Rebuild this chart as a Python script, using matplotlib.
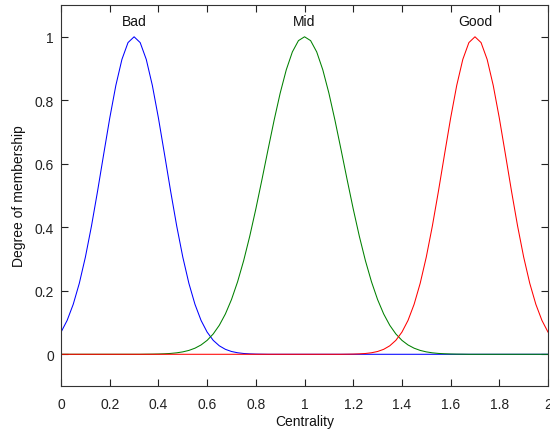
import numpy as np
import matplotlib
matplotlib.use("Agg")
import matplotlib.pyplot as plt

# sample positions along Centrality axis (0 .. 2 in steps of 0.025)
x_values = np.linspace(0, 2, 81)

bad_values = [
    0.0698, 0.1067, 0.1574, 0.2236, 0.3062, 0.4041, 0.5139, 0.6298, 0.7439, 0.8467,
    0.9287, 0.9817, 1.0000, 0.9817, 0.9287, 0.8467, 0.7439, 0.6298, 0.5139, 0.4041,
    0.3062, 0.2236, 0.1574, 0.1067, 0.0698, 0.0439, 0.0267, 0.0156, 0.0088, 0.0048,
    0.0025, 0.0013, 0.0006, 0.0003, 0.0, 0.0, 0.0, 0.0, 0.0, 0.0,
    0.0, 0.0, 0.0, 0.0, 0.0, 0.0, 0.0, 0.0, 0.0, 0.0,
    0.0, 0.0, 0.0, 0.0, 0.0, 0.0, 0.0, 0.0, 0.0, 0.0,
    0.0, 0.0, 0.0, 0.0, 0.0, 0.0, 0.0, 0.0, 0.0, 0.0,
    0.0, 0.0, 0.0, 0.0, 0.0, 0.0, 0.0, 0.0, 0.0, 0.0,
    0.0,
]

mid_values = [
    0.0, 0.0, 0.0, 0.0, 0.0, 0.0, 0.0, 0.0, 0.0, 0.0,
    0.0, 0.0, 0.0, 0.0, 0.0003, 0.0005, 0.0009, 0.0016, 0.0027, 0.0046,
    0.0076, 0.0122, 0.0192, 0.0294, 0.0439, 0.0641, 0.0914, 0.1271, 0.1724, 0.2283,
    0.2950, 0.3720, 0.4578, 0.5498, 0.6444, 0.7370, 0.8226, 0.8960, 0.9523, 0.9879,
    1.0000, 0.9879, 0.9523, 0.8960, 0.8226, 0.7370, 0.6444, 0.5498, 0.4578, 0.3720,
    0.2950, 0.2283, 0.1724, 0.1271, 0.0914, 0.0641, 0.0439, 0.0294, 0.0192, 0.0122,
    0.0076, 0.0046, 0.0027, 0.0016, 0.0009, 0.0005, 0.0003, 0.0, 0.0, 0.0,
    0.0, 0.0, 0.0, 0.0, 0.0, 0.0, 0.0, 0.0, 0.0, 0.0,
    0.0,
]

good_values = [
    0.0, 0.0, 0.0, 0.0, 0.0, 0.0, 0.0, 0.0, 0.0, 0.0,
    0.0, 0.0, 0.0, 0.0, 0.0, 0.0, 0.0, 0.0, 0.0, 0.0,
    0.0, 0.0, 0.0, 0.0, 0.0, 0.0, 0.0, 0.0, 0.0, 0.0,
    0.0, 0.0, 0.0, 0.0, 0.0, 0.0, 0.0, 0.0, 0.0, 0.0,
    0.0, 0.0, 0.0, 0.0, 0.0, 0.0, 0.0, 0.0003, 0.0006, 0.0013,
    0.0025, 0.0048, 0.0088, 0.0156, 0.0267, 0.0439, 0.0698, 0.1067, 0.1574, 0.2236,
    0.3062, 0.4041, 0.5139, 0.6298, 0.7439, 0.8467, 0.9287, 0.9817, 1.0000, 0.9817,
    0.9287, 0.8467, 0.7439, 0.6298, 0.5139, 0.4041, 0.3062, 0.2236, 0.1574, 0.1067,
    0.0698,
]

mf_names = ["Bad", "Mid", "Good"]
mf_centers = [0.3, 1.0, 1.7]
x_ticks = [0, 0.2, 0.4, 0.6, 0.8, 1, 1.2, 1.4, 1.6, 1.8, 2]
x_tick_labels = ["0", "0.2", "0.4", "0.6", "0.8", "1", "1.2", "1.4", "1.6", "1.8", "2"]
y_ticks = [0, 0.2, 0.4, 0.6, 0.8, 1]
y_tick_labels = ["0", "0.2", "0.4", "0.6", "0.8", "1"]

plt.rcParams['font.family'] = ['Liberation Sans', 'DejaVu Sans']

fig = plt.figure(figsize=(5.5, 4.31), dpi=100)
ax = fig.add_axes([0.111, 0.102, 0.8854, 0.884])

lw = 0.75
ax.plot(x_values, bad_values, color=(0, 0, 1), lw=lw)
ax.plot(x_values, mid_values, color=(0, 0.5, 0), lw=lw)
ax.plot(x_values, good_values, color=(1, 0, 0), lw=lw)

for name, c in zip(mf_names, mf_centers):
    ax.text(c, 1.05, name, ha="center", va="center", fontsize=10, color="#111111")

ax.set_xlim(0, 2)
ax.set_ylim(-0.1, 1.1)
ax.set_xticks(x_ticks)
ax.set_xticklabels(x_tick_labels)
ax.set_yticks(y_ticks)
ax.set_yticklabels(y_tick_labels)
ax.tick_params(direction="in", length=5, width=0.8, top=True, right=True,
               labelsize=10, colors="#222222")
ax.tick_params(axis="x", pad=8)
ax.tick_params(axis="y", pad=5)
for s in ax.spines.values():
    s.set_linewidth(0.8)
    s.set_color("#333333")
ax.set_xlabel("Centrality", fontsize=10, labelpad=2, color="#111111")
ax.set_ylabel("Degree of membership", fontsize=10, labelpad=6, color="#111111")

fig.savefig("out.png", dpi=100)
